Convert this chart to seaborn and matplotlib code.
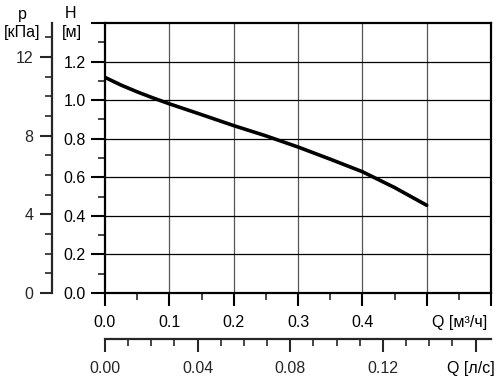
import numpy as np
import pandas as pd
import matplotlib
matplotlib.use("Agg")
import matplotlib.pyplot as plt
import seaborn as sns
from matplotlib.ticker import MultipleLocator, FixedLocator

# ---- data ----
q_m3h = [0.0, 0.025, 0.05, 0.075, 0.10, 0.15, 0.20, 0.25, 0.30, 0.35, 0.40, 0.45, 0.50]
head_m = [1.118, 1.078, 1.043, 1.011, 0.981, 0.925, 0.868, 0.815, 0.757, 0.694, 0.629, 0.547, 0.455]
x_ticks = [0.0, 0.1, 0.2, 0.3, 0.4, 0.5, 0.6]
x_labels = ["0.0", "0.1", "0.2", "0.3", "0.4", "", ""]
y_ticks = [0.0, 0.2, 0.4, 0.6, 0.8, 1.0, 1.2, 1.4]
y_labels = ["0.0", "0.2", "0.4", "0.6", "0.8", "1.0", "1.2", ""]
p_ticks = [0, 4, 8, 12]
ls_ticks = [0.00, 0.04, 0.08, 0.12, 0.16]
ls_labels = ["0.00", "0.04", "0.08", "0.12", ""]

sns.set_style("white")
plt.rcParams["font.family"] = ["Liberation Sans", "DejaVu Sans"]
FS = 11.5

df = pd.DataFrame({"Q": q_m3h, "H": head_m})

fig = plt.figure(figsize=(5.0, 3.82), dpi=100)
W, Hpx = 500, 382
L, R, T, B = 105, 491, 23, 293
ax = fig.add_axes([L / W, 1 - B / Hpx, (R - L) / W, (B - T) / Hpx])

sns.lineplot(data=df, x="Q", y="H", ax=ax, color="black", lw=2.6)
ax.lines[0].set_solid_joinstyle("round")
ax.set_xlim(0, 0.6)
ax.set_ylim(0, 1.4)
ax.set_xlabel("")
ax.set_ylabel("")

# grid
for xv in x_ticks[1:-1]:
    ax.axvline(xv, color="#555555", lw=0.9, zorder=0)
for yv in y_ticks[1:-1]:
    ax.axhline(yv, color="black", lw=0.9, zorder=0)

for s in ax.spines.values():
    s.set_color("black")
    s.set_linewidth(1.6)

ax.xaxis.set_major_locator(FixedLocator(x_ticks))
ax.set_xticklabels(x_labels)
ax.xaxis.set_minor_locator(MultipleLocator(0.05))
ax.yaxis.set_major_locator(FixedLocator(y_ticks))
ax.set_yticklabels(y_labels)
ax.yaxis.set_minor_locator(MultipleLocator(0.1))
ax.tick_params(axis="x", which="major", direction="out", length=9, width=1.5,
               pad=7, labelsize=FS, colors="black", bottom=True)
ax.tick_params(axis="x", which="minor", direction="out", length=5, width=1.2, bottom=True)
ax.tick_params(axis="y", which="major", direction="out", length=10, width=1.5,
               pad=4, labelsize=FS, colors="black", left=True)
ax.tick_params(axis="y", which="minor", direction="out", length=5, width=1.2, left=True)

# secondary p axis [kPa]
g = 9.81
pax = ax.secondary_yaxis(-(L - 52) / (R - L), functions=(lambda h: h * g, lambda p: p / g))
pax.spines["left"].set_linewidth(1.6)
pax.yaxis.set_major_locator(FixedLocator(p_ticks))
pax.yaxis.set_minor_locator(MultipleLocator(1))
pax.tick_params(axis="y", which="major", length=8.5, width=1.5, pad=5, labelsize=FS)
pax.tick_params(axis="y", which="minor", length=5, width=1.2)

# secondary Q axis [l/s]
qax = ax.secondary_xaxis(-(339 - B) / (B - T), functions=(lambda q: q / 3.6, lambda l: l * 3.6))
qax.spines["bottom"].set_linewidth(1.6)
qax.xaxis.set_major_locator(FixedLocator(ls_ticks))
qax.set_xticklabels(ls_labels)
qax.xaxis.set_minor_locator(MultipleLocator(0.01))
qax.tick_params(axis="x", which="major", length=9, width=1.5, pad=7, labelsize=FS)
qax.tick_params(axis="x", which="minor", length=5, width=1.2)

# axis titles
def ftxt(x, y, s, ha="center"):
    fig.text(x / W, 1 - y / Hpx, s, ha=ha, va="center", fontsize=FS, color="black")

ftxt(71, 14, "H")
ftxt(72, 33, "[м]")
ftxt(22, 14, "p")
ftxt(22, 33, "[кПа]")
ftxt(487, 323, "Q [м³/ч]", ha="right")
ftxt(495, 368, "Q [л/с]", ha="right")

fig.savefig("out.png", dpi=100, facecolor="white")
